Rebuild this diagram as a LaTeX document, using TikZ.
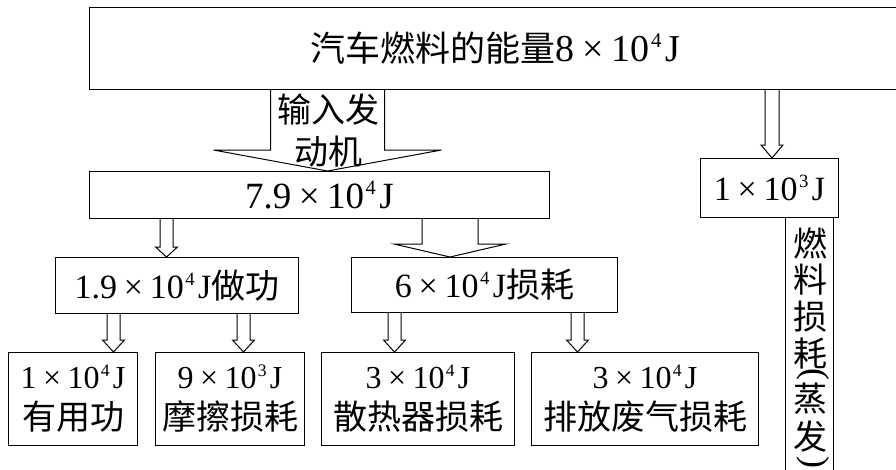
\documentclass[tikz,border=0pt]{standalone}
\usepackage{fontspec}
\setmainfont{Liberation Serif}
\newfontfamily\cjk{Noto Sans CJK SC}
\usetikzlibrary{calc}
\newcommand{\Han}[1]{{\cjk\fontsize{34}{40}\selectfont #1}}
\newcommand{\Energia}[2]{#1\kern0.2em×\kern0.2em10\kern0.04em\raisebox{0.38em}{\scalebox{0.55}{#2}}\kern0.1em J}
\newcommand{\FlechaHueca}[6]{% x, origen, destino, medio cuerpo, media punta, largo punta
  \draw[flecha] let \p1=(#2.south), \p2=(#3.north) in
    (#1pt-#4pt,\y1) -- (#1pt-#4pt,\y2+#6pt) -- (#1pt-#5pt,\y2+#6pt) -- (#1pt,\y2)
    -- (#1pt+#5pt,\y2+#6pt) -- (#1pt+#4pt,\y2+#6pt) -- (#1pt+#4pt,\y1);
}
\tikzset{
  caja/.style={draw, line width=1pt, inner sep=0pt, anchor=north west, align=center},
  flecha/.style={line width=1pt, line join=miter},
  letraA/.style={font=\fontsize{38}{42}\selectfont},
  letraB/.style={font=\fontsize{37}{42}\selectfont},
  letraC/.style={font=\fontsize{34}{42}\selectfont},
  letraD/.style={font=\fontsize{32}{41}\selectfont},
  parentesis/.style={inner sep=0pt, font=\fontsize{36}{36}\selectfont},
}

\begin{document}
\begin{tikzpicture}[x=1pt,y=1pt]
    \useasboundingbox (0,0) rectangle (896,-469);

    % cajas
    \node[caja, letraA, minimum width=812pt, minimum height=82pt] (combustible) at (89,-7)
      {{\cjk\fontsize{35}{40}\selectfont 汽车燃料的能量}\Energia{8}{4}};
    \node[caja, letraB, minimum width=460pt, minimum height=47pt] (motor) at (89,-171)
      {\Energia{7.9}{4}};
    \node[caja, letraC, minimum width=138pt, minimum height=59pt] (evapora) at (700,-158)
      {\Energia{1}{3}};
    \node[caja, minimum width=48pt, minimum height=262pt] (perdida) at (785,-217) {};
    \node[caja, letraC, minimum width=243pt, minimum height=56pt] (trabajo) at (55,-257)
      {\Energia{1.9}{4}\Han{做功}};
    \node[caja, letraC, minimum width=266pt, minimum height=55pt] (consumo) at (351,-257)
      {\Energia{6}{4}\Han{损耗}};
    \node[caja, letraD, minimum width=129pt, minimum height=93pt] (util) at (8,-352)
      {\Energia{1}{4}\\\Han{有用功}};
    \node[caja, letraD, minimum width=149pt, minimum height=93pt] (friccion) at (155,-352)
      {\Energia{9}{3}\\\Han{摩擦损耗}};
    \node[caja, letraD, minimum width=193pt, minimum height=93pt] (radiador) at (321,-352)
      {\Energia{3}{4}\\\Han{散热器损耗}};
    \node[caja, letraD, minimum width=227pt, minimum height=93pt] (escape) at (531,-352)
      {\Energia{3}{4}\\\Han{排放废气损耗}};

    % texto vertical
    \foreach \c [count=\i] in {燃,料,损,耗}
      \node (v\i) at (810,{-243-37*(\i-1)}) {\Han{\c}};
    \node[parentesis] (pa) at (813,-376) {\rotatebox[origin=c]{-90}{(}};
    \node (v5) at (810,-399) {\Han{蒸}};
    \node (v6) at (810,-437) {\Han{发}};
    \node[parentesis] (pc) at (813,-464) {\rotatebox[origin=c]{-90}{)}};

    % flechas
    \FlechaHueca{327.5}{combustible}{motor}{57}{114}{21}
    \node[align=center,font=\fontsize{34}{42}\selectfont\cjk] (entrada) at (328,-131)
      {输入发\\动机};
    \FlechaHueca{772}{combustible}{evapora}{7}{11}{13}
    \FlechaHueca{166.5}{motor}{trabajo}{6.5}{11}{10}
    \FlechaHueca{450}{motor}{consumo}{28}{56}{13}
    \FlechaHueca{113.5}{trabajo}{util}{6.5}{11}{12}
    \FlechaHueca{243.5}{trabajo}{friccion}{6.5}{11}{12}
    \FlechaHueca{394.5}{consumo}{radiador}{6.5}{11}{12}
    \FlechaHueca{577.5}{consumo}{escape}{6.5}{11}{12}
\end{tikzpicture}
\end{document}
